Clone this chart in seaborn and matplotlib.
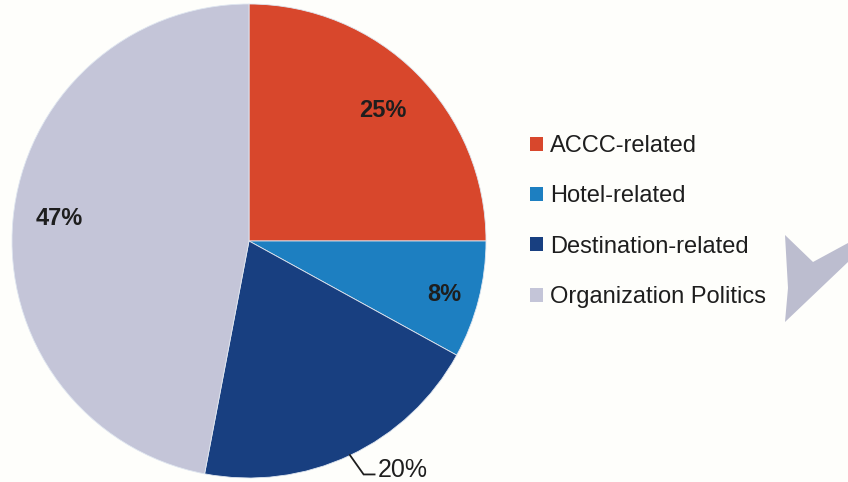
import numpy as np
import matplotlib
matplotlib.use("Agg")
import matplotlib.pyplot as plt
from matplotlib.patches import Patch, Polygon
import seaborn as sns

categories = ["ACCC-related", "Hotel-related", "Destination-related", "Organization Politics"]
shares = [25, 8, 20, 47]
colors = ["#d8472c", "#1d7fc1", "#183f80", "#c4c5d8"]

sns.set_theme(style="white")
plt.rcParams["font.family"] = ["Liberation Sans", "DejaVu Sans"]

W, H, DPI = 848, 482, 100
fig = plt.figure(figsize=(W / DPI, H / DPI), dpi=DPI)
fig.patch.set_facecolor("#fefefb")

# pie centre and radius in pixels
cx, cy, r = 249, 241, 237
ax = fig.add_axes([0, 0, 1, 1])
ax.set_facecolor("none")

wedges, _ = ax.pie(shares, colors=colors, startangle=90, counterclock=False,
                   radius=1.0, center=(0, 0),
                   wedgeprops=dict(edgecolor="#dfe6f0", linewidth=0.6))
ax.set_aspect("auto")
ax.set_xlim(-cx / r, (W - cx) / r)
ax.set_ylim(-(H - cy) / r, cy / r)
ax.axis("off")

# percentage labels placed near each wedge's middle angle
label_r = [0.80, 0.85, None, 0.81]
angle_shift = [0.0, 0.0, 0.0, -2.5]
for w, val, lr, da in zip(wedges, shares, label_r, angle_shift):
    mid = np.deg2rad((w.theta1 + w.theta2) / 2 + da)
    if lr is not None:
        ax.text(lr * np.cos(mid), lr * np.sin(mid) - 0.015, f"{val}%", ha="center", va="center",
                fontsize=17, fontweight="bold", color="#1e1e1e")
    else:
        x0, y0 = 0.995 * np.cos(mid), 0.995 * np.sin(mid)
        x1, y1 = x0 + 0.06, -0.985
        x2 = x1 + 0.05
        ax.plot([x0, x1, x2], [y0, y1, y1], color="#1e1e1e", lw=1.3,
                solid_capstyle="butt", solid_joinstyle="miter")
        ax.text(x2 + 0.01, y1 + 0.02, f"{val}%", ha="left", va="center",
                fontsize=18, color="#1e1e1e")

handles = [Patch(facecolor=c, edgecolor="none") for c in colors]
fig.legend(handles, categories, loc="upper left",
           bbox_to_anchor=(530 / W, 1 - 135 / H), frameon=False,
           fontsize=17, handlelength=0.55, handleheight=0.55, handletextpad=0.3,
           labelspacing=1.2, borderpad=0, borderaxespad=0,
           labelcolor="#1e1e1e")

# grey arrow shape at the right edge
pts = [(785, 235), (813, 262), (848, 243), (848, 262), (785, 322), (788, 288)]
fig.patches.append(Polygon([(x, H - y) for x, y in pts], closed=True,
                           facecolor="#bcbdcf", edgecolor="none",
                           transform=None, figure=fig))

fig.savefig("out.png", dpi=DPI, facecolor=fig.get_facecolor())
